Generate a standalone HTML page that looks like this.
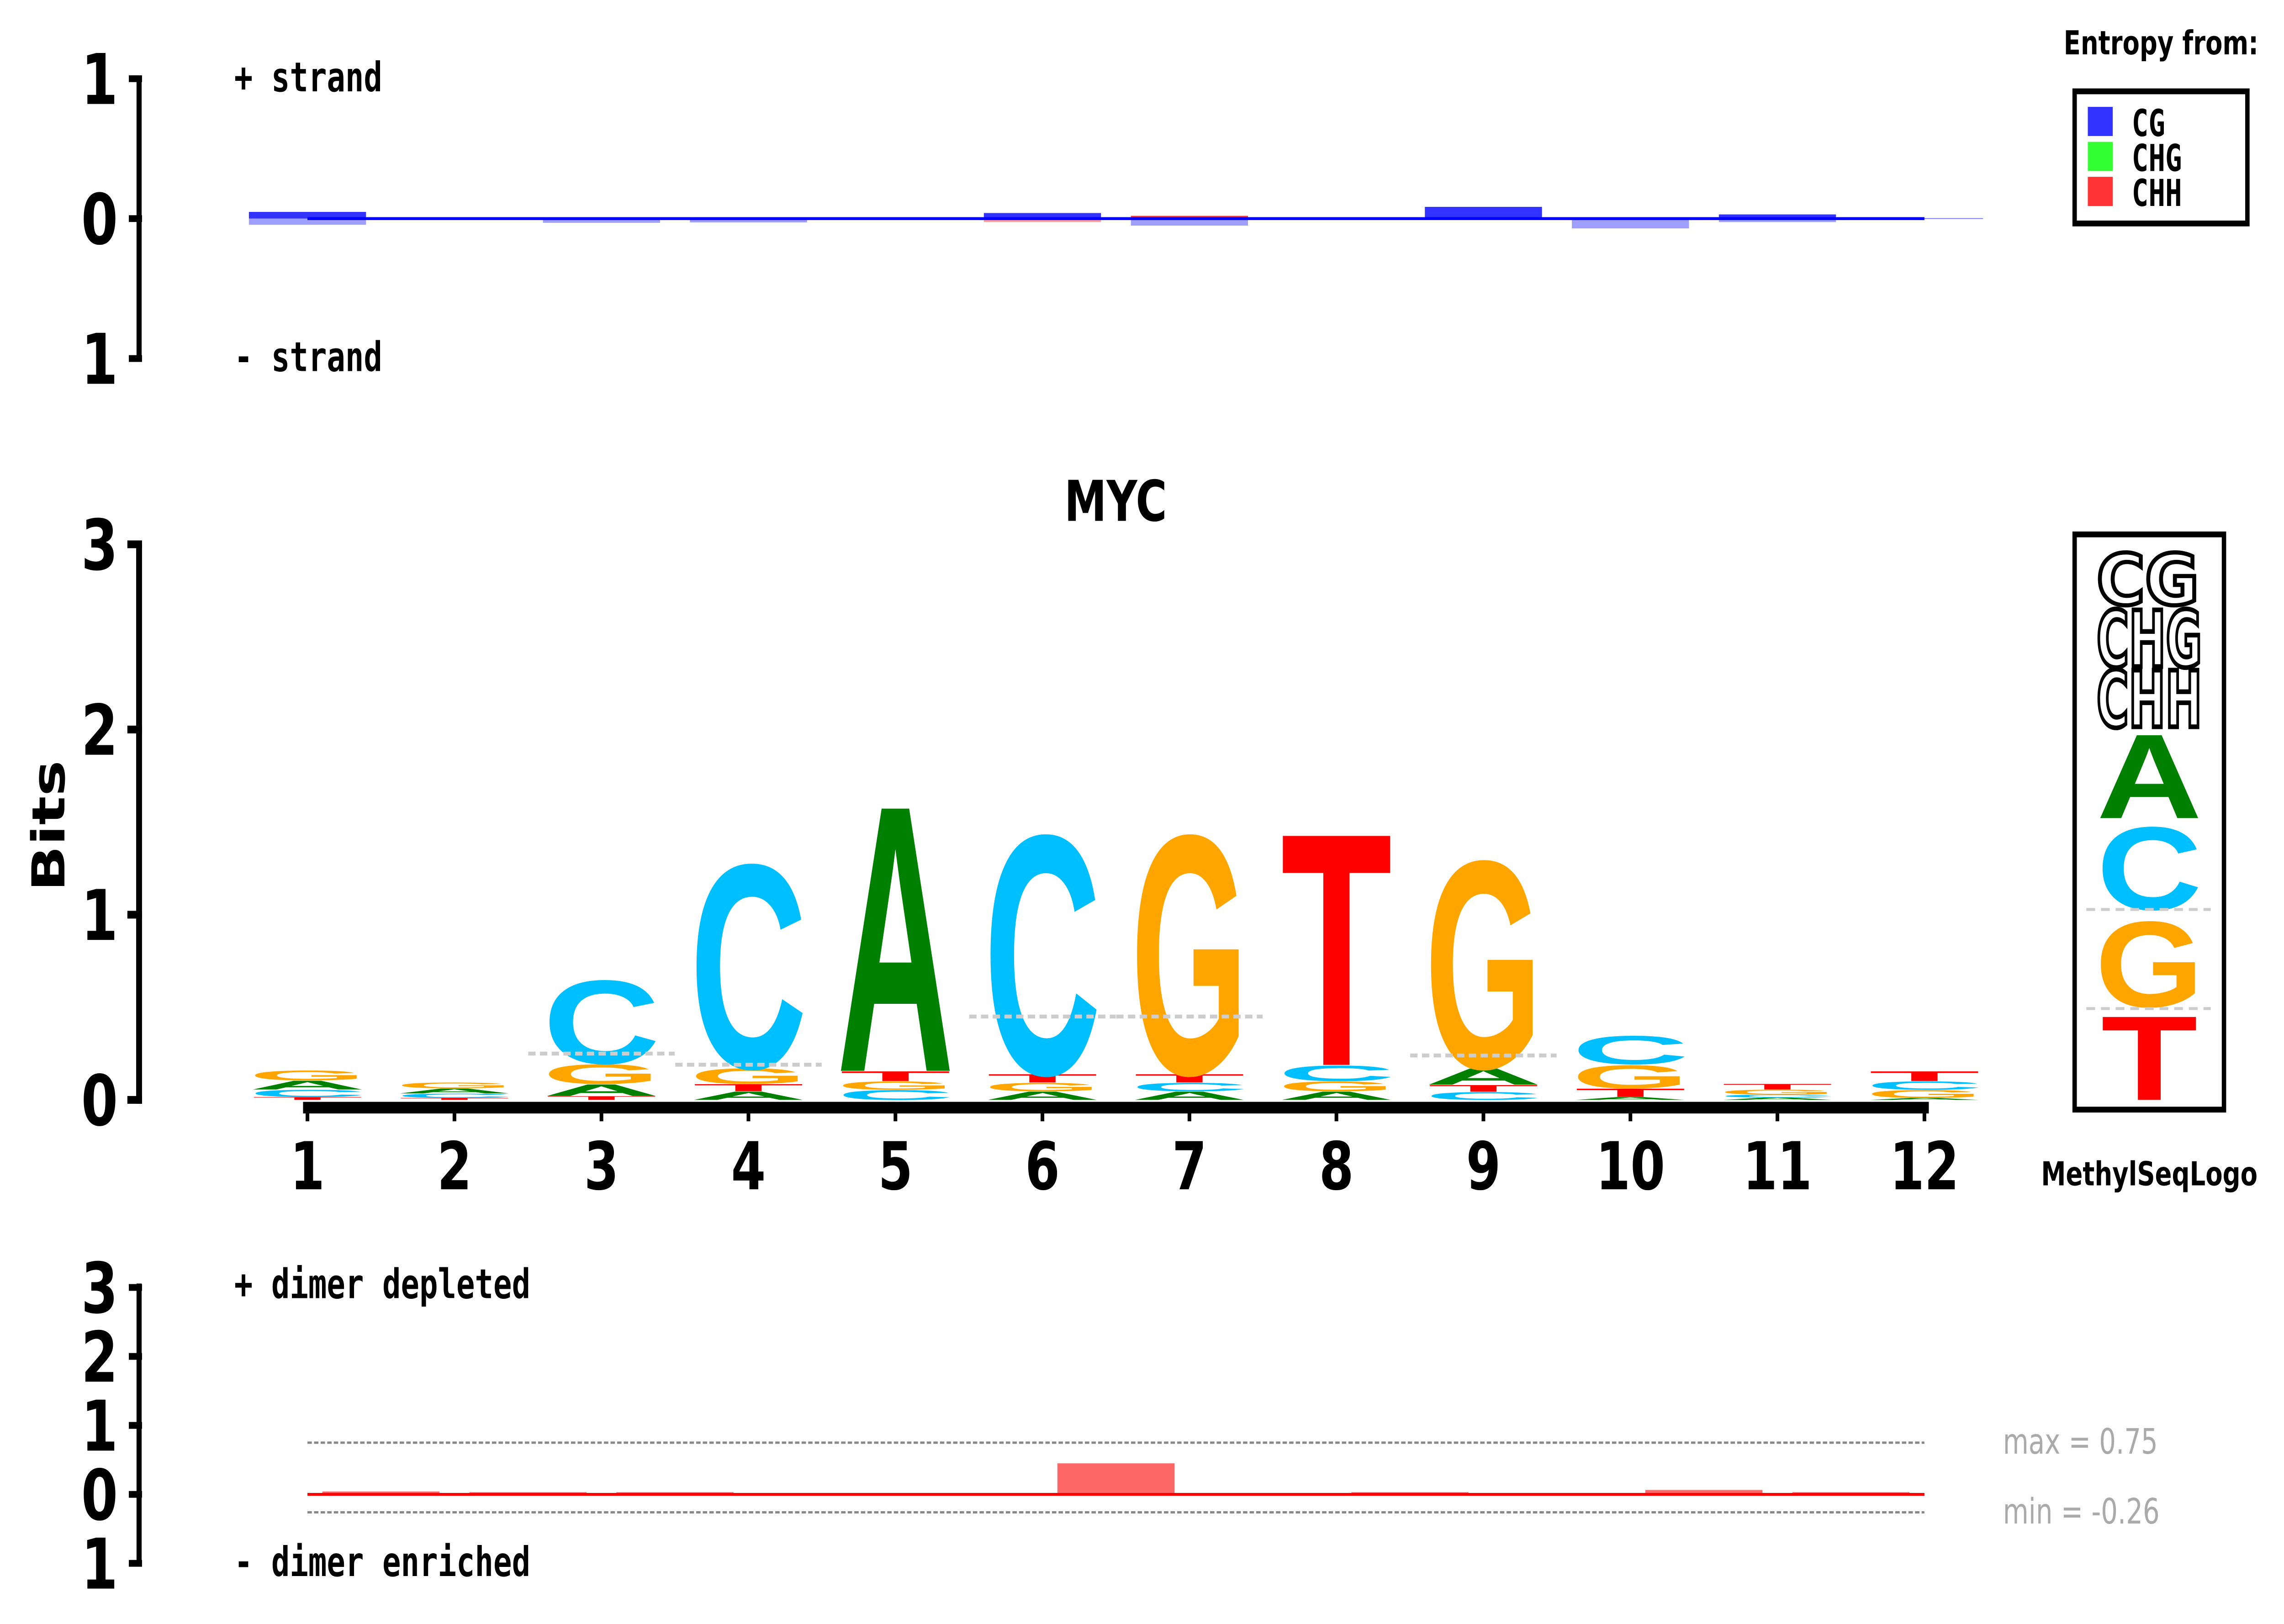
<!DOCTYPE html>
<html><head><meta charset="utf-8"><style>
html,body{margin:0;padding:0;background:#fff;width:100%;height:100%;overflow:hidden;}
svg{display:block;position:absolute;left:0;top:0;width:100vw;height:100vh;}
.b{font-family:"DejaVu Sans","Liberation Sans",sans-serif;font-weight:bold;}
.m{font-family:"DejaVu Sans Mono","Liberation Mono",monospace;font-weight:bold;}
</style></head><body>
<svg id="chart" xmlns="http://www.w3.org/2000/svg" viewBox="0 0 1560 835.7" preserveAspectRatio="none">
<g id="static">
  <text class="b" x="1476" y="28" font-size="17" text-anchor="middle">Entropy from:</text>
  <rect x="1417" y="47" width="118" height="68" fill="#fff" stroke="#000" stroke-width="3"/>
  <rect x="1426" y="55" width="17" height="15" fill="#3333ff"/>
  <rect x="1426" y="73" width="17" height="15" fill="#33ff33"/>
  <rect x="1426" y="91" width="17" height="15" fill="#ff3333"/>
  <text class="m" x="1456" y="70" font-size="19">CG</text>
  <text class="m" x="1456" y="88" font-size="19">CHG</text>
  <text class="m" x="1456" y="106" font-size="19">CHH</text>
  <text class="m" x="160" y="47" font-size="21">+ strand</text>
  <text class="m" x="160" y="191" font-size="21">- strand</text>
  <text class="b" x="762" y="268" font-size="29" text-anchor="middle">MYC</text>
  <text class="b" x="0" y="0" font-size="31" text-anchor="middle" transform="translate(44,425) rotate(-90)">Bits</text>
  <text class="b" x="1468" y="610" font-size="17" text-anchor="middle">MethylSeqLogo</text>
  <text class="m" x="160" y="668" font-size="21">+ dimer depleted</text>
  <text class="m" x="160" y="811" font-size="21">- dimer enriched</text>
  <text x="1368" y="748" font-size="18" fill="#aaa" font-family="DejaVu Sans, Liberation Sans, sans-serif">max = 0.75</text>
  <text x="1368" y="784" font-size="18" fill="#aaa" font-family="DejaVu Sans, Liberation Sans, sans-serif">min = -0.26</text>
  <rect x="1417" y="275" width="102" height="296" fill="#fff" stroke="#000" stroke-width="3"/>
  <g>
    <text class="b" x="0" y="0" font-size="100" fill="#fff" stroke="#000" stroke-width="6" textLength="70" lengthAdjust="spacingAndGlyphs" transform="translate(1432,311) scale(1,0.36)">CG</text>
    <text class="b" x="0" y="0" font-size="100" fill="#fff" stroke="#000" stroke-width="6" textLength="72" lengthAdjust="spacingAndGlyphs" transform="translate(1432,343) scale(1,0.40)">CHG</text>
    <text class="b" x="0" y="0" font-size="100" fill="#fff" stroke="#000" stroke-width="6" textLength="72" lengthAdjust="spacingAndGlyphs" transform="translate(1432,374) scale(1,0.40)">CHH</text>
    <text font-family="Liberation Sans, sans-serif" font-weight="bold" x="0" y="0" font-size="100" fill="#008000" textLength="72" lengthAdjust="spacingAndGlyphs" transform="translate(1432,421) scale(1,0.62)">A</text>
    <text font-family="Liberation Sans, sans-serif" font-weight="bold" x="0" y="0" font-size="100" fill="#00bfff" textLength="72" lengthAdjust="spacingAndGlyphs" transform="translate(1432,468) scale(1,0.61)">C</text>
    <text font-family="Liberation Sans, sans-serif" font-weight="bold" x="0" y="0" font-size="100" fill="#ffa500" textLength="74" lengthAdjust="spacingAndGlyphs" transform="translate(1431,518) scale(1,0.63)">G</text>
    <text font-family="Liberation Sans, sans-serif" font-weight="bold" x="0" y="0" font-size="100" fill="#ff0000" textLength="66" lengthAdjust="spacingAndGlyphs" transform="translate(1435,566) scale(1,0.62)">T</text>
    <line x1="1425" y1="468" x2="1510" y2="468" stroke="#ccc" stroke-width="1.5" stroke-dasharray="6,4"/>
    <line x1="1425" y1="519" x2="1510" y2="519" stroke="#ccc" stroke-width="1.5" stroke-dasharray="6,4"/>
  </g>
</g>
<g id="dyn"></g>
</svg>
<script>
const positions = [1,2,3,4,5,6,7,8,9,10,11,12];
const plusCG  = [0.048,0,0.008,0,0,0.04,0,0,0.084,0.008,0.03,0.003];
const plusCHH = [0,0,0,0,0,0,0.02,0,0,0,0,0];
const plusCHG = [0,0,0,0.004,0,0,0,0,0,0,0,0];
const minusCG = [0.044,0,0.03,0.027,0,0,0.05,0,0,0.07,0.025,0.003];
const minusCHH= [0,0,0,0,0,0.025,0,0,0,0,0,0];
const topTicks = ["1","0","1"];
const colT = [0.016,0.011,0.021,0.04,0.055,0.047,0.047,1.31,0.038,0.047,0.032,0.055];
const colA = [0.05,0.028,0.066,0.047,1.5,0.047,0.047,0.047,0.092,0.016,0.013,0.011];
const colC = [0.04,0.024,0.47,1.15,0.055,1.35,0.047,0.087,0.044,0.16,0.016,0.047];
const colG = [0.055,0.032,0.11,0.087,0.047,0.047,1.35,0.055,1.17,0.13,0.027,0.044];
const colOrder = [
 ["T","C","A","G"],["T","C","A","G"],["T","A","G","C"],["A","T","G","C"],
 ["C","G","T","A"],["A","G","T","C"],["A","C","T","G"],["A","G","C","T"],
 ["C","T","A","G"],["A","T","G","C"],["A","C","G","T"],["A","G","C","T"]];
const bgLines = [[3,0.25],[4,0.19],[6,0.45],[7,0.45],[9,0.24]];
const mainTicks = [0,1,2,3];
const dimerVals = [0.042,0.032,0.032,0.01,0.01,0.45,0.01,0.032,0.01,0.064,0.032];
const dimerMax = 0.75, dimerMin = -0.26;
const dimerTicks = [3,2,1,0,-1];

const NS="http://www.w3.org/2000/svg";
const g=document.getElementById('dyn');
function mk(tag,attrs,parent){const e=document.createElementNS(NS,tag);for(const k in attrs)e.setAttribute(k,attrs[k]);(parent||g).appendChild(e);return e;}
const xPos = p => 210 + (p-1)*100.4;
const topY = v => 112.5 - v*72;
const mainY = v => 566 - v*95.3;
const botY = v => 769 - v*35.5;
const colors={A:"#008000",C:"#00bfff",G:"#ffa500",T:"#ff0000"};
const vals={A:colA,C:colC,G:colG,T:colT};

let e=mk('line',{x1:95,y1:topY(1),x2:95,y2:topY(-1),stroke:"#000","stroke-width":3.5});


[1,0,-1].forEach((v,i)=>{
  let t=mk('line',{x1:88,y1:topY(v),x2:97,y2:topY(v),stroke:"#000","stroke-width":3.5});
  
  
  let l=mk('text',{x:68,y:topY(v)+13,"font-size":36,"text-anchor":"middle",class:"b"});
  
  
  l.textContent=topTicks[i];
});
positions.forEach((p,i)=>{
  const x=xPos(p)-40;
  let acc=0;
  [[plusCG,"#3333ff"],[plusCHH,"#ff3333"],[plusCHG,"#33ff33"]].forEach(([arr,c])=>{
    if(arr[i]>0){let r=mk('rect',{x:x,y:topY(acc+arr[i]),width:80,height:arr[i]*72,fill:c});
      
      acc+=arr[i];}
  });
  acc=0;
  [[minusCG,"#9f9fff"],[minusCHH,"#ff9f9f"]].forEach(([arr,c])=>{
    if(arr[i]>0){let r=mk('rect',{x:x,y:topY(-acc),width:80,height:arr[i]*72,fill:c});
      
      acc+=arr[i];}
  });
});
e=mk('line',{x1:xPos(1),y1:topY(0),x2:xPos(12),y2:topY(0),stroke:"#0000ff","stroke-width":1.5});



e=mk('line',{x1:95,y1:mainY(3),x2:95,y2:mainY(0)+2,stroke:"#000","stroke-width":4});


mainTicks.forEach(v=>{
  let t=mk('line',{x1:87,y1:mainY(v),x2:97,y2:mainY(v),stroke:"#000","stroke-width":4});
  
  
  let l=mk('text',{x:68,y:mainY(v)+13,"font-size":36,"text-anchor":"middle",class:"b"});
  
  
  l.textContent=String(v);
});
e=mk('line',{x1:xPos(1)-3,y1:570,x2:xPos(12)+3,y2:570,stroke:"#000","stroke-width":6});


positions.forEach(p=>{
  let t=mk('line',{x1:xPos(p),y1:570,x2:xPos(p),y2:577,stroke:"#000","stroke-width":2.5});
  
  
  let l=mk('text',{x:xPos(p),y:612,"font-size":34,"text-anchor":"middle",class:"b"});
  
  
  l.textContent=String(p);
});
positions.forEach((p,i)=>{
  let acc=0;
  colOrder[i].forEach(L=>{
    const h=vals[L][i];
    if(h<=0) return;
    const yb=mainY(acc), ht=h*95.3;
    const w = L==="T"?76:80;
    const t=mk('text',{x:0,y:0,"font-size":100,fill:colors[L],"font-family":"Liberation Sans, sans-serif","font-weight":"bold",textLength:w,lengthAdjust:"spacingAndGlyphs",
      transform:`translate(${xPos(p)-w/2},${yb}) scale(1,${ht/72.9})`});
    
    
    t.textContent=L;
    acc+=h;
  });
});
bgLines.forEach(([p,v])=>{
  let l=mk('line',{x1:xPos(p)-50,y1:mainY(v),x2:xPos(p)+50,y2:mainY(v),stroke:"#ccc","stroke-width":2,"stroke-dasharray":"5,3"});
  
  
});

e=mk('line',{x1:95,y1:botY(3)-2,x2:95,y2:botY(-1),stroke:"#000","stroke-width":3.5});


dimerTicks.forEach(v=>{
  let t=mk('line',{x1:88,y1:botY(v),x2:97,y2:botY(v),stroke:"#000","stroke-width":3.5});
  
  
  let l=mk('text',{x:68,y:botY(v)+13,"font-size":36,"text-anchor":"middle",class:"b"});
  
  
  l.textContent=String(Math.abs(v));
});
[dimerMax,dimerMin].forEach(v=>{
  let l=mk('line',{x1:xPos(1),y1:botY(v),x2:xPos(12),y2:botY(v),stroke:"#888","stroke-width":1.2,"stroke-dasharray":"3,1.5"});
  
  
});
dimerVals.forEach((v,i)=>{
  const xc=xPos(i+1)+50.2;
  let r=mk('rect',{x:xc-40,y:v>=0?botY(v):botY(0),width:80,height:Math.abs(v)*35.5,fill:"#ff6666"});
  
  
});
e=mk('line',{x1:xPos(1),y1:botY(0),x2:xPos(12),y2:botY(0),stroke:"#ff0000","stroke-width":1.5});


</script>
</body></html>
